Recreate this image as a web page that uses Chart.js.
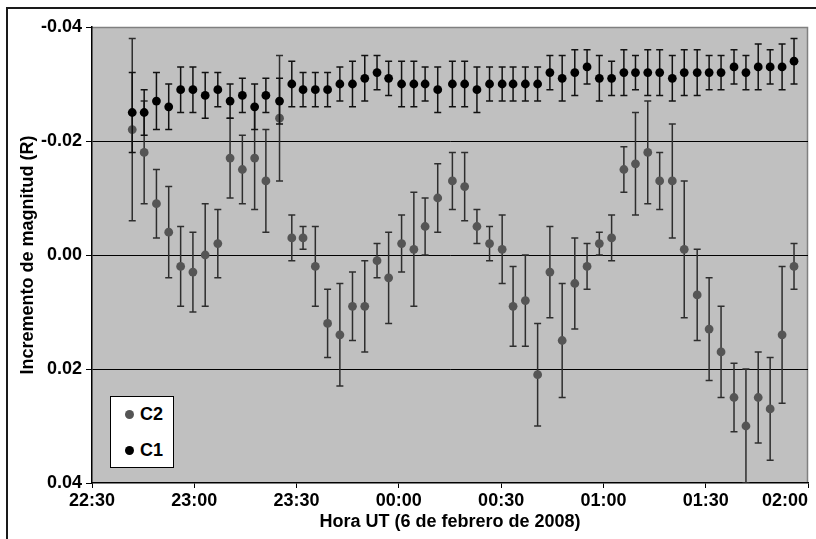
<!DOCTYPE html>
<html>
<head>
<meta charset="utf-8">
<script src="https://cdn.jsdelivr.net/npm/chart.js@4.4.1/dist/chart.umd.min.js"></script>
<style>
  html, body { margin: 0; padding: 0; background: #fff; overflow: hidden; }
  #wrap { position: relative; width: 816px; height: 539px; }
  #c { position: absolute; left: 0; top: 0; }
  #frame { position: absolute; left: 6px; top: 7px; width: 820px; height: 540px;
           border-top: 2px solid #1a1a1a; border-left: 2px solid #1a1a1a; pointer-events: none; }
  #legend { position: absolute; left: 110px; top: 396px; width: 62px; height: 70px;
            background: #fff; border: 1px solid #000; font-family: 'Liberation Sans', Arial, sans-serif;
            font-weight: bold; font-size: 18px; color: #000; }
  .item { position: absolute; left: 0; height: 20px; line-height: 20px; }
  .dot { position: absolute; left: 14px; top: 6px; width: 9px; height: 9px; border-radius: 50%; }
  .lab { position: absolute; left: 29px; top: 0; }
</style>
</head>
<body>
<div id="wrap">
  <canvas id="c" width="816" height="539"></canvas>
  <div id="frame"></div>
  <div id="legend">
    <div class="item" style="top:7px"><span class="dot" style="background:#555"></span><span class="lab">C2</span></div>
    <div class="item" style="top:43px"><span class="dot" style="background:#000"></span><span class="lab">C1</span></div>
  </div>
</div>
<script>
// Minutes after 22:30 UT (6 Feb 2008)
const tiempoMin = [11.8, 15.3, 18.9, 22.5, 26.0, 29.6, 33.2, 36.9, 40.5, 44.1,
  47.7, 51.0, 55.0, 58.6, 61.9, 65.5, 69.1, 72.7, 76.4, 80.0,
  83.6, 87.0, 90.8, 94.4, 97.7, 101.4, 105.7, 109.3, 112.9, 116.6,
  120.3, 123.5, 127.1, 130.7, 134.3, 137.9, 141.6, 145.2, 148.8, 152.4,
  156.0, 159.4, 163.0, 166.5, 170.2, 173.7, 177.5, 181.0, 184.5, 188.3,
  191.8, 195.4, 198.9, 202.4, 205.9];

const c1 = [-0.025, -0.025, -0.027, -0.026, -0.029, -0.029, -0.028, -0.029, -0.027, -0.028,
  -0.026, -0.028, -0.027, -0.030, -0.029, -0.029, -0.029, -0.030, -0.030, -0.031,
  -0.032, -0.031, -0.030, -0.030, -0.030, -0.029, -0.030, -0.030, -0.029, -0.030,
  -0.030, -0.030, -0.030, -0.030, -0.032, -0.031, -0.032, -0.033, -0.031, -0.031,
  -0.032, -0.032, -0.032, -0.032, -0.031, -0.032, -0.032, -0.032, -0.032, -0.033,
  -0.032, -0.033, -0.033, -0.033, -0.034];

const c1Err = [0.007, 0.004, 0.005, 0.004, 0.004, 0.004, 0.004, 0.003, 0.003, 0.003,
  0.004, 0.003, 0.004, 0.004, 0.003, 0.003, 0.003, 0.003, 0.004, 0.004,
  0.003, 0.003, 0.004, 0.004, 0.003, 0.004, 0.004, 0.004, 0.004, 0.003,
  0.003, 0.003, 0.003, 0.003, 0.003, 0.004, 0.004, 0.003, 0.004, 0.003,
  0.004, 0.003, 0.004, 0.004, 0.004, 0.004, 0.004, 0.003, 0.003, 0.003,
  0.003, 0.004, 0.003, 0.004, 0.004];

const c2 = [-0.022, -0.018, -0.009, -0.004, 0.002, 0.003, 0.000, -0.002, -0.017, -0.015,
  -0.017, -0.013, -0.024, -0.003, -0.003, 0.002, 0.012, 0.014, 0.009, 0.009,
  0.001, 0.004, -0.002, -0.001, -0.005, -0.010, -0.013, -0.012, -0.005, -0.002,
  -0.001, 0.009, 0.008, 0.021, 0.003, 0.015, 0.005, 0.002, -0.002, -0.003,
  -0.015, -0.016, -0.018, -0.013, -0.013, -0.001, 0.007, 0.013, 0.017, 0.025,
  0.030, 0.025, 0.027, 0.014, 0.002];

const c2Err = [0.016, 0.009, 0.006, 0.008, 0.007, 0.007, 0.009, 0.006, 0.007, 0.006,
  0.009, 0.009, 0.011, 0.004, 0.002, 0.007, 0.006, 0.009, 0.006, 0.008,
  0.003, 0.008, 0.005, 0.010, 0.005, 0.006, 0.005, 0.006, 0.003, 0.003,
  0.006, 0.007, 0.008, 0.009, 0.008, 0.010, 0.008, 0.004, 0.002, 0.004,
  0.004, 0.009, 0.009, 0.005, 0.010, 0.012, 0.008, 0.009, 0.008, 0.006,
  0.010, 0.008, 0.009, 0.012, 0.004];

const xTickLabels = ["22:30", "23:00", "23:30", "00:00", "00:30", "01:00", "01:30", "02:00"];
const yTickValues = [-0.04, -0.02, 0.00, 0.02, 0.04];

Chart.defaults.font.family = "'Liberation Sans', Arial, sans-serif";
Chart.defaults.font.size = 18;
Chart.defaults.font.weight = 'bold';
Chart.defaults.color = '#000';

const bgPlugin = {
  id: 'bg',
  beforeDraw(chart) {
    const c = chart.ctx, a = chart.chartArea;
    c.save();
    c.fillStyle = '#fff';
    c.fillRect(0, 0, chart.width, chart.height);
    c.fillStyle = '#c0c0c0';
    c.fillRect(a.left, a.top, a.right - a.left, a.bottom - a.top);
    c.strokeStyle = '#808080';
    c.lineWidth = 1.5;
    c.beginPath();
    c.moveTo(a.left, a.top + 0.5);
    c.lineTo(a.right - 0.5, a.top + 0.5);
    c.lineTo(a.right - 0.5, a.bottom);
    c.stroke();
    c.restore();
  }
};

const errorBars = {
  id: 'errorBars',
  beforeDatasetDraw(chart, args) {
    const ds = chart.data.datasets[args.index];
    const errs = ds.errors;
    if (!errs) return;
    const ys = chart.scales.y, a = chart.chartArea, c = chart.ctx;
    c.save();
    c.beginPath();
    c.rect(a.left, a.top, a.right - a.left, a.bottom - a.top);
    c.clip();
    c.strokeStyle = ds.barColor;
    c.lineWidth = 1.5;
    args.meta.data.forEach((pt, i) => {
      const v = ds.data[i].y, e = errs[i];
      const y1 = ys.getPixelForValue(v - e), y2 = ys.getPixelForValue(v + e);
      const x = pt.x;
      c.beginPath();
      c.moveTo(x, y1); c.lineTo(x, y2);
      c.moveTo(x - 3.5, y1); c.lineTo(x + 3.5, y1);
      c.moveTo(x - 3.5, y2); c.lineTo(x + 3.5, y2);
      c.stroke();
    });
    c.restore();
  }
};

const mk = (ys) => tiempoMin.map((t, i) => ({ x: t, y: ys[i] }));

new Chart(document.getElementById('c'), {
  type: 'scatter',
  data: {
    datasets: [
      { label: 'C1', data: mk(c1), errors: c1Err, barColor: '#111',
        backgroundColor: '#000', borderColor: '#000', pointRadius: 4.4, pointHoverRadius: 4.4, borderWidth: 0 },
      { label: 'C2', data: mk(c2), errors: c2Err, barColor: '#2e2e2e',
        backgroundColor: '#555', borderColor: '#555', pointRadius: 4.4, pointHoverRadius: 4.4, borderWidth: 0 }
    ]
  },
  options: {
    responsive: false,
    animation: false,
    devicePixelRatio: 1,
    events: [],
    layout: { padding: { top: 27, right: 8, left: 0, bottom: 0 } },
    plugins: { legend: { display: false }, tooltip: { enabled: false } },
    scales: {
      x: {
        type: 'linear', min: 0, max: 210,
        afterBuildTicks: (s) => { s.ticks = xTickLabels.map((l, i) => ({ value: i * 30 })); },
        ticks: { autoSkip: false, maxRotation: 0, padding: 2,
                 callback: (v) => xTickLabels[Math.round(v / 30)] },
        grid: { drawOnChartArea: false, drawTicks: true, tickLength: 5, color: '#000', tickColor: '#000' },
        border: { color: '#000', width: 1.5 },
        title: { display: true, text: 'Hora UT (6 de febrero de 2008)', padding: { top: 0, bottom: 6 } },
        afterFit: (s) => { s.height = 56; s.paddingLeft = 0; s.paddingRight = 0; },
        afterUpdate: (s) => {
          if (!s.__patched && typeof s._computeLabelItems === 'function') {
            const orig = s._computeLabelItems;
            s._computeLabelItems = function (ca) {
              const items = orig.call(this, ca);
              const last = items[items.length - 1];
              if (last && last.options) last.options.textAlign = 'right';
              return items;
            };
            s.__patched = true;
          }
        }
      },
      y: {
        type: 'linear', reverse: true, min: -0.04, max: 0.04,
        afterBuildTicks: (s) => { s.ticks = yTickValues.map(v => ({ value: v })); },
        ticks: { padding: 4, callback: (v) => (Math.abs(v) < 1e-9 ? 0 : v).toFixed(2) },
        grid: {
          drawTicks: true, tickLength: 6, tickColor: '#000', lineWidth: 1,
          color: (ctx) => {
            const v = ctx.tick ? ctx.tick.value : 0;
            if (Math.abs(v) < 0.03) return '#000';
            if (v < 0) return '#808080';
            return 'rgba(0,0,0,0)';
          }
        },
        border: { color: '#000', width: 1.5 },
        title: { display: true, text: 'Incremento de magnitud (R)', padding: { top: 17, bottom: 0 } },
        afterFit: (s) => { s.width = 92; }
      }
    }
  },
  plugins: [bgPlugin, errorBars]
});
</script>
</body>
</html>
